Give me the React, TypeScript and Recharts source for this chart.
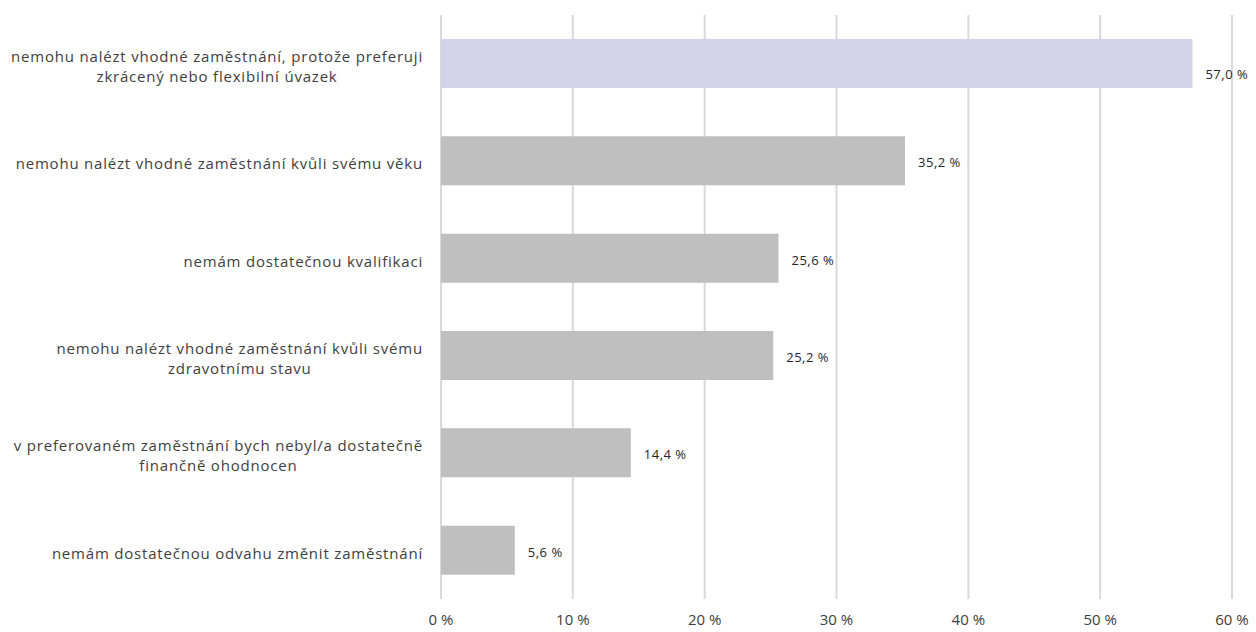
import React from "react";
import { BarChart, Bar, XAxis, YAxis, CartesianGrid, LabelList, Cell } from "recharts";

const categories = [
  "nemohu nalézt vhodné zaměstnání, protože preferuji\nzkrácený nebo flexibilní úvazek",
  "nemohu nalézt vhodné zaměstnání kvůli svému věku",
  "nemám dostatečnou kvalifikaci",
  "nemohu nalézt vhodné zaměstnání kvůli svému\nzdravotnímu stavu",
  "v preferovaném zaměstnání bych nebyl/a dostatečně\nfinančně ohodnocen",
  "nemám dostatečnou odvahu změnit zaměstnání",
];
const values = [57.0, 35.2, 25.6, 25.2, 14.4, 5.6];
const barColors = ["#d4d2e8", "#bfbfbf", "#bfbfbf", "#bfbfbf", "#bfbfbf", "#bfbfbf"];
const xTicks = [0, 10, 20, 30, 40, 50, 60];

const data = categories.map((c, i) => ({ name: c, value: values[i] }));

const FONT = '"Open Sans", sans-serif';
const LABEL_SIZE = 15;
const LS = 0.8;

let ctx: CanvasRenderingContext2D | null = null;
function measure(t: string): number {
  if (!ctx) {
    const c = document.createElement("canvas");
    ctx = c.getContext("2d");
  }
  if (!ctx) return t.length * 8.3;
  ctx.font = `${LABEL_SIZE}px "Open Sans"`;
  return ctx.measureText(t).width + LS * t.length;
}

const CategoryTick = (props: any) => {
  const { y, payload } = props;
  const right = 423;
  const lines: string[] = String(payload.value).split("\n");
  const w = Math.max(...lines.map(measure));
  const cx = right - w / 2;
  const lh = 20;
  const start = y + 3 - ((lines.length - 1) * lh) / 2;
  return (
    <g>
      {lines.map((l, i) => (
        <text
          key={i}
          x={cx}
          y={start + i * lh}
          dy="0.35em"
          textAnchor="middle"
          fill="#404040"
          fontSize={LABEL_SIZE}
          fontFamily={FONT}
          letterSpacing={LS}
        >
          {l}
        </text>
      ))}
    </g>
  );
};

const fmt = (v: any) => `${Number(v).toFixed(1).replace(".", ",")} %`;

const ValueLabel = (props: any) => {
  const { x, y, width, height, value, index } = props;
  const shift = index === 0 ? 11 : 2;
  return (
    <text
      x={x + width + 13}
      y={y + height / 2 + shift}
      dy="0.35em"
      textAnchor="start"
      fill="#262626"
      fontSize={13}
      fontFamily={FONT}
      letterSpacing={0.5}
    >
      {fmt(value)}
    </text>
  );
};

export default function App() {
  return (
    <div style={{ position: "fixed", left: 0, top: 0, width: 1256, height: 632, background: "#fff" }}>
      <BarChart
        width={1256}
        height={632}
        data={data}
        layout="vertical"
        margin={{ top: 15, right: 24, left: 0, bottom: 3 }}
      >
        <CartesianGrid horizontal={false} stroke="#d9d9d9" strokeWidth={2} />
        <XAxis
          type="number"
          domain={[0, 60]}
          ticks={xTicks}
          tickFormatter={(v) => `${v} %`}
          axisLine={false}
          tickLine={false}
          height={30}
          tickMargin={9}
          tick={{ fill: "#404040", fontSize: 15, fontFamily: FONT }}
        />
        <YAxis
          type="category"
          dataKey="name"
          width={441}
          axisLine={false}
          tickLine={false}
          tick={<CategoryTick />}
          interval={0}
        />
        <Bar dataKey="value" barSize={49} isAnimationActive={false}>
          {data.map((d, i) => (
            <Cell key={i} fill={barColors[i]} />
          ))}
          <LabelList dataKey="value" content={<ValueLabel />} />
        </Bar>
      </BarChart>
    </div>
  );
}
